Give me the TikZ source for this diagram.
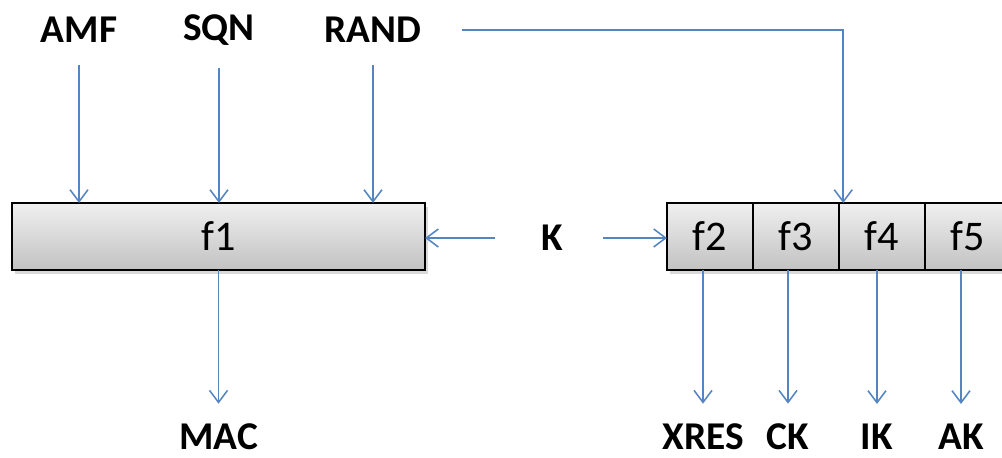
\documentclass[tikz,border=0pt]{standalone}
\usepackage{fontspec}
\setmainfont{Carlito}
\usetikzlibrary{arrows.meta,shadows,positioning}
\definecolor{arrowblue}{RGB}{84,133,192}
\tikzset{
    %Define standard arrow tip
    >={Straight Barb[length=0.3cm,width=0.45cm]},
    %Define style for boxes
    fbox/.style={
           rectangle,
           draw=black, line width=1.2pt,
           outer sep=0pt,
           top color=black!6, bottom color=black!24,
           drop shadow={opacity=0.3, shadow xshift=0.7mm, shadow yshift=-0.9mm},
           minimum height=1.675cm,
           font=\fontsize{30}{32}\selectfont,
           text centered},
    %Define style for signal names
    sig/.style={
           inner sep=0pt,
           font=\fontsize{28}{30}\selectfont\bfseries},
    % Define arrow style
    pil/.style={
           ->,
           draw=arrowblue,
           line width=1.1pt}
}
\begin{document}
\begin{tikzpicture}[x=0.025cm,y=-0.025cm]
\useasboundingbox (0,0) rectangle (1002,458);
 %nodes
\node[sig] (amf) at (79,30) {AMF};
\node[sig] (sqn) at (219,30) {SQN};
\node[sig] (rand) at (373,30) {RAND};

\node[fbox, minimum width=10.325cm] (f1) at (218.5,236.5) {f1};
\node[sig] (k) at (552,238) {K};

\node[fbox, minimum width=2.15cm] (f2) at (710,236.5) {f2};
\node[fbox, minimum width=2.15cm, right=0pt of f2] (f3) {f3};
\node[fbox, minimum width=2.15cm, right=0pt of f3] (f4) {f4};
\node[fbox, minimum width=2.15cm, right=0pt of f4] (f5) {f5};

\node[sig] (mac) at (218.5,437) {MAC};
\node[sig] (xres) at (703,437) {XRES};
\node[sig] (ck) at (788,437) {CK};
\node[sig] (ik) at (877,437) {IK};
\node[sig] (ak) at (961,437) {AK};

 %inputs
\draw[pil, shorten <=0.55cm] (amf.south) -- (amf |- f1.north);
\draw[pil, shorten <=0.55cm] (sqn.south) -- (sqn |- f1.north);
\draw[pil, shorten <=0.55cm] (rand.south) -- (rand |- f1.north);
\draw[pil, shorten <=1cm] (rand.east) -| ([xshift=3pt]f4.north west);
\draw[pil, shorten <=1.15cm] (k.west) -- (k.west -| f1.east);
\draw[pil, shorten <=1cm] (k.east) -- (k.east -| f2.west);

 %outputs
\draw[pil, shorten >=0.5cm] (f1.south) -- (mac.north);
\draw[pil, shorten >=0.5cm] (xres |- f2.south) -- (xres.north);
\draw[pil, shorten >=0.5cm] (ck |- f3.south) -- (ck.north);
\draw[pil, shorten >=0.5cm] (ik |- f4.south) -- (ik.north);
\draw[pil, shorten >=0.5cm] (ak |- f5.south) -- (ak.north);
\end{tikzpicture}
\end{document}
